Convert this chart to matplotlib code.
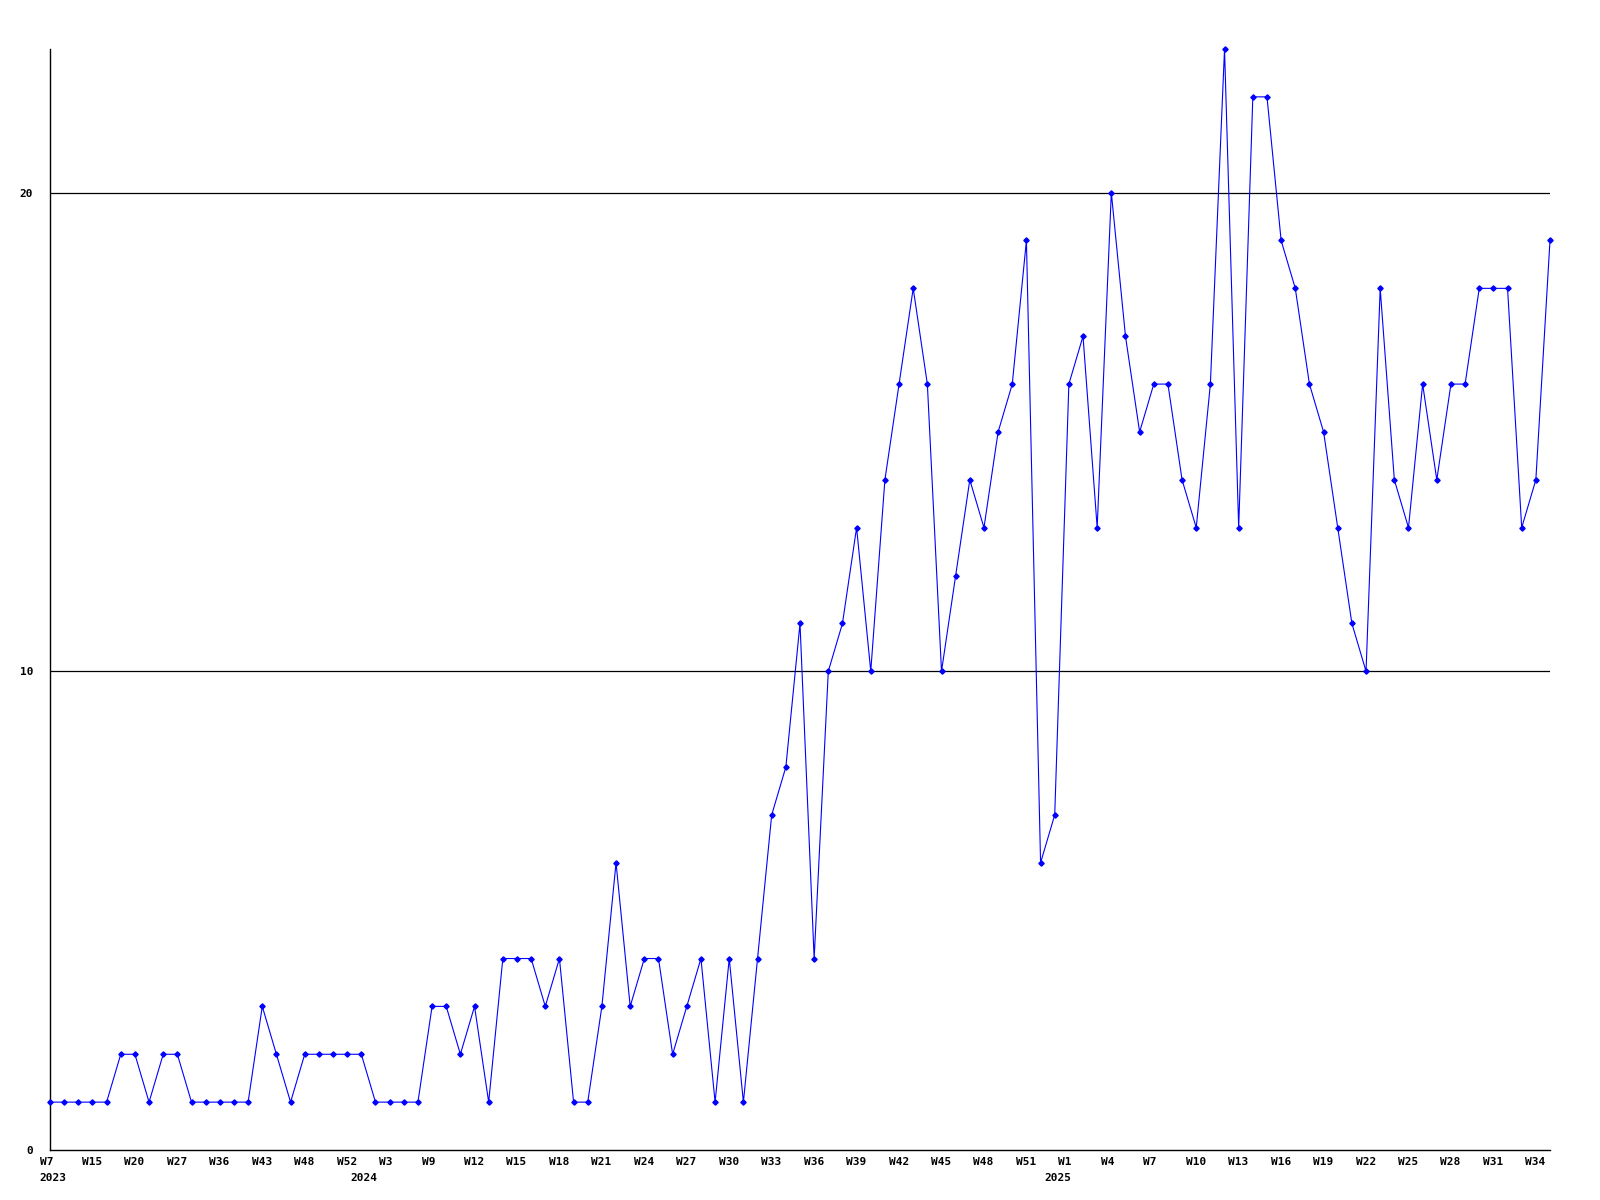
import matplotlib
matplotlib.use("Agg")
import matplotlib.pyplot as plt
from matplotlib.transforms import ScaledTranslation

# ---- data ----
weeks_2023 = ["W7", "W10", "W12", "W15", "W17", "W18", "W20", "W22", "W25", "W27", "W30", "W33",
              "W36", "W38", "W40", "W43", "W45", "W46", "W48", "W49", "W50", "W52"]
weeks_2024 = ["W1", "W2", "W3", "W6", "W8"] + ["W%d" % w for w in range(9, 53)]
weeks_2025 = ["W%d" % w for w in range(0, 36)]
week_labels = weeks_2023 + weeks_2024 + weeks_2025

values = [1, 1, 1, 1, 1, 2, 2, 1, 2, 2, 1, 1, 1, 1, 1, 3, 2, 1, 2, 2, 2, 2,
          2, 1, 1, 1, 1, 3, 3, 2, 3, 1, 4, 4, 4, 3, 4, 1, 1, 3, 6, 3, 4, 4, 2, 3, 4, 1, 4, 1, 4,
          7, 8, 11, 4, 10, 11, 13, 10, 14, 16, 18, 16, 10, 12, 14, 13, 15, 16, 19, 6,
          7, 16, 17, 13, 20, 17, 15, 16, 16, 14, 13, 16, 23, 13, 22, 22, 19, 18, 16, 15,
          13, 11, 10, 18, 14, 13, 16, 14, 16, 16, 18, 18, 18, 13, 14, 19]

year_labels = ["2023", "2024", "2025"]
year_start_index = [0, len(weeks_2023), len(weeks_2023) + len(weeks_2024)]
y_ticks = [0, 10, 20]
label_step = 3

# ---- figure ----
fig = plt.figure(figsize=(16, 12), dpi=100)
W, H = 1600, 1200
left, right, bottom, top = 50, 1550, 1150, 49
ax = fig.add_axes([left / W, 1 - bottom / H, (right - left) / W, (bottom - top) / H])

x = list(range(len(values)))
ax.plot(x, values, color="#0000ff", linewidth=0.8, marker="D", markersize=2.7,
        markerfacecolor="#0000ff", markeredgecolor="#0000ff", clip_on=False, zorder=3)

ax.set_xlim(0, len(values) - 1)
ax.set_ylim(0, 23)

for s in ["top", "right"]:
    ax.spines[s].set_visible(False)
for s in ["left", "bottom"]:
    ax.spines[s].set_color("black")
    ax.spines[s].set_linewidth(1.0)

font = dict(family="DejaVu Sans Mono", weight="bold", size=8)

ax.set_yticks(y_ticks)
ax.set_yticklabels([str(v) for v in y_ticks], **font)
ax.tick_params(axis="y", length=0, pad=12)
for v in y_ticks[1:]:
    ax.axhline(v, color="black", linewidth=0.9, zorder=1)

tick_idx = list(range(0, len(values), label_step))
ax.set_xticks(tick_idx)
ax.set_xticklabels([week_labels[i] for i in tick_idx], **font)
ax.tick_params(axis="x", length=0, pad=5)
shift = ScaledTranslation(-10.5 / 100, 0, fig.dpi_scale_trans)
for lab in ax.get_xticklabels():
    lab.set_horizontalalignment("left")
    lab.set_transform(lab.get_transform() + shift)

for txt, idx in zip(year_labels, year_start_index):
    ax.annotate(txt, xy=(idx, 0), xycoords=("data", "axes fraction"),
                xytext=(-10.5 * 0.72, -23 * 0.72), textcoords="offset points",
                ha="left", va="top", annotation_clip=False, **font)

fig.savefig("out.png", dpi=100, facecolor="white")
